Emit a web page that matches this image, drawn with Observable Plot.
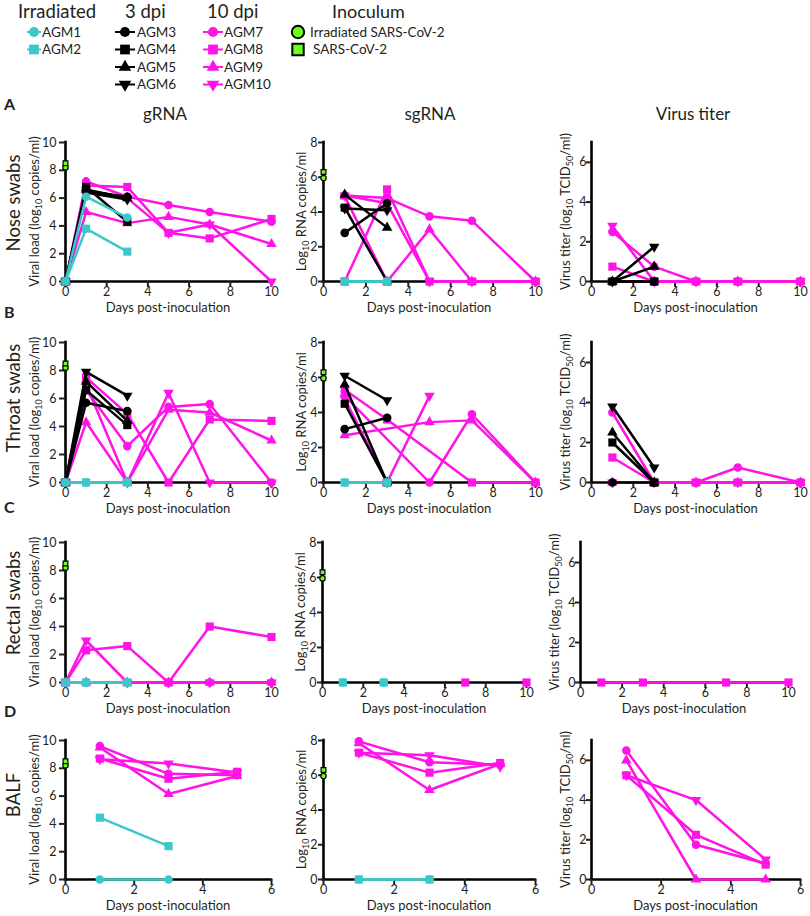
<!DOCTYPE html>
<html>
<head>
<meta charset="utf-8">
<script src="https://cdn.jsdelivr.net/npm/d3@7"></script>
<script src="https://cdn.jsdelivr.net/npm/@observablehq/plot@0.6"></script>
<style>
html,body{margin:0;padding:0;background:#fff;}
#fig{position:relative;width:810px;height:916px;overflow:hidden;font-family:Lato,"Open Sans",sans-serif;color:#231f20;}
#fig > svg{position:absolute;}
</style>
</head>
<body>
<div id="fig"></div>
<script>
const _ = null;

// ---------- categories ----------
const animals = ["AGM1","AGM2","AGM3","AGM4","AGM5","AGM6","AGM7","AGM8","AGM9","AGM10"];
const animalGroup = ["Irradiated","Irradiated","3 dpi","3 dpi","3 dpi","3 dpi","10 dpi","10 dpi","10 dpi","10 dpi"];
const animalSymbol = ["circle","square","circle","square","triangle","triangleDown","circle","square","triangle","triangleDown"];
const groupNames = ["Irradiated","3 dpi","10 dpi"];
const groupColors = ["#3cc8c8","#000000","#ff14e6"];
const inoculumNames = ["Irradiated SARS-CoV-2","SARS-CoV-2"];
const inoculumSymbol = ["circle","square"];
const inoculumColor = "#6cff1a";

const colTitles = ["gRNA","sgRNA","Virus titer"];
const rowTitles = ["Nose swabs","Throat swabs","Rectal swabs","BALF"];
const rowLetters = ["A","B","C","D"];
const xLabel = "Days post-inoculation";
const yMax = [10, 8, 7];
const yTicks = [[0,2,4,6,8,10],[0,2,4,6,8],[0,2,4,6]];
const swabTicks = [0,2,4,6,8,10];
const balfTicks = [0,2,4,6];

// ---------- days ----------
const swabDays = [0, 1, 3, 5, 7, 10];
const balfDays = [1, 3, 5];
const none6 = [_,_,_,_,_,_];
const none3 = [_,_,_];

// ---------- inoculum (log10) ----------
const inoculumGRNA = [8.2, 8.5];
const inoculumSgRNA = [5.95, 6.3];

// ---------- Nose swabs (rows AGM1..AGM10, columns = swabDays) ----------
const noseGRNA = [
  [0, 6.1, 4.6, _, _, _],
  [0, 3.8, 2.15, _, _, _],
  [0, 6.5, 6.1, _, _, _],
  [0, 6.8, 4.3, _, _, _],
  [0, 6.6, 6.0, _, _, _],
  [0, 6.4, 5.9, _, _, _],
  [0, 7.2, 6.1, 5.5, 5.0, 4.3],
  [0, 6.9, 6.8, 3.5, 3.1, 4.5],
  [0, 5.0, 4.2, 4.65, 4.1, 2.7],
  [0, 6.6, 6.0, 3.5, 4.1, 0]
];
const noseSgRNA = [
  [_, 0, 0, _, _, _],
  [_, 0, 0, _, _, _],
  [_, 2.8, 4.5, _, _, _],
  [_, 4.25, 0, _, _, _],
  [_, 5.0, 3.1, _, _, _],
  [_, 4.2, 4.1, _, _, _],
  [_, 4.95, 4.8, 3.75, 3.5, 0],
  [_, 0, 5.3, 0, 0, 0],
  [_, 4.9, 0, 3.0, 0, 0],
  [_, 4.95, 4.5, 0, 0, 0]
];
const noseTiter = [
  none6,
  none6,
  [_, 0, 0, _, _, _],
  [_, 0, 0, _, _, _],
  [_, 0, 0.75, _, _, _],
  [_, 0, 1.75, _, _, _],
  [_, 2.5, 0.75, 0, 0, 0],
  [_, 0.75, 0, 0, 0, 0],
  [_, 0, 0, 0, 0, 0],
  [_, 2.8, 0, 0, 0, 0]
];

// ---------- Throat swabs ----------
const throatGRNA = [
  [0, 0, 0, _, _, _],
  [0, 0, 0, _, _, _],
  [0, 5.7, 5.1, _, _, _],
  [0, 6.6, 4.1, _, _, _],
  [0, 7.2, 4.4, _, _, _],
  [0, 7.9, 6.2, _, _, _],
  [0, 6.6, 2.6, 5.4, 5.6, 0],
  [0, 7.5, 4.9, 0, 4.5, 4.4],
  [0, 4.3, 0, 5.2, 5.0, 3.0],
  [0, 7.0, 0, 6.4, 0, 0]
];
const throatSgRNA = [
  [_, 0, 0, _, _, _],
  [_, 0, 0, _, _, _],
  [_, 3.05, 3.7, _, _, _],
  [_, 4.5, 0, _, _, _],
  [_, 5.6, 0, _, _, _],
  [_, 6.1, 4.7, _, _, _],
  [_, 4.95, _, 0, 3.9, 0],
  [_, 5.3, 3.6, _, 0, 0],
  [_, 2.7, _, 3.45, 3.55, 0],
  [_, 4.8, 0, 4.95, _, _]
];
const throatTiter = [
  none6,
  none6,
  [_, 0, 0, _, _, _],
  [_, 2.0, 0, _, _, _],
  [_, 2.5, 0, _, _, _],
  [_, 3.8, 0.75, _, _, _],
  [_, 3.5, 0, 0, 0.75, 0],
  [_, 1.25, 0, 0, 0, 0],
  [_, 0, 0, 0, 0, 0],
  [_, 0, 0, 0, 0, 0]
];

// ---------- Rectal swabs ----------
const rectalGRNA = [
  [0, 0, 0, _, _, _],
  [0, 0, 0, _, _, _],
  none6, none6, none6, none6,
  [0, 0, 0, 0, 0, 0],
  [0, 2.3, 2.6, 0, 4.0, 3.25],
  [0, 0, 0, 0, 0, 0],
  [0, 3.0, 0, 0, 0, 0]
];
const rectalSgRNA = [
  [_, 0, 0, _, _, _],
  [_, 0, 0, _, _, _],
  none6, none6, none6, none6,
  none6,
  [_, _, _, _, 0, 0],
  none6, none6
];
const rectalTiter = [
  none6, none6, none6, none6, none6, none6,
  none6,
  [_, 0, 0, _, 0, 0],
  none6, none6
];

// ---------- BALF (columns = balfDays) ----------
const balfGRNA = [
  [0, 0, _],
  [4.45, 2.4, _],
  none3, none3, none3, none3,
  [9.6, 7.6, 7.5],
  [8.7, 7.25, 7.75],
  [9.5, 6.15, 7.45],
  [8.65, 8.35, 7.7]
];
const balfSgRNA = [
  [0, 0, _],
  [0, 0, _],
  none3, none3, none3, none3,
  [7.95, 6.75, 6.6],
  [7.3, 6.15, 6.7],
  [7.85, 5.15, 6.65],
  [7.3, 7.15, 6.5]
];
const balfTiter = [
  none3, none3, none3, none3, none3, none3,
  [6.5, 1.75, 0.8],
  [5.25, 2.25, 0.75],
  [6.0, 0, 0],
  [5.25, 4.0, 1.0]
];

// ---------- layout (pixels) ----------
const ROW_PX = [[142, 281], [342, 482], [542, 682], [740, 879]];
const COL_PX = [[65, 271], [323, 535], [591, 800]];
const COL_PX_OVERRIDE = {"2-1": [322, 526], "2-2": [580, 788]};
const YLABEL_OFFSET = [26, 17, 21];
const YTICK_STYLE = [{tickSize: 6, tickPadding: 3}, {tickSize: 5, tickPadding: 1}, {tickSize: 5, tickPadding: 0}];
const ROW_TITLE_Y = [203, 398, 603, 795];
const ROW_LETTER_Y = [110, 318, 513, 717];
const COL_TITLE_X = [165, 430, 693];

const panels = [
  {row:0, col:0, values: noseGRNA, days: swabDays, inoculum: inoculumGRNA, lines: true},
  {row:0, col:1, values: noseSgRNA, days: swabDays, inoculum: inoculumSgRNA, lines: true},
  {row:0, col:2, values: noseTiter, days: swabDays, inoculum: null, lines: true},
  {row:1, col:0, values: throatGRNA, days: swabDays, inoculum: inoculumGRNA, lines: true},
  {row:1, col:1, values: throatSgRNA, days: swabDays, inoculum: inoculumSgRNA, lines: true},
  {row:1, col:2, values: throatTiter, days: swabDays, inoculum: null, lines: true},
  {row:2, col:0, values: rectalGRNA, days: swabDays, inoculum: inoculumGRNA, lines: true},
  {row:2, col:1, values: rectalSgRNA, days: swabDays, inoculum: inoculumSgRNA, lines: false},
  {row:2, col:2, values: rectalTiter, days: swabDays, inoculum: null, lines: true},
  {row:3, col:0, values: balfGRNA, days: balfDays, inoculum: inoculumGRNA, lines: true},
  {row:3, col:1, values: balfSgRNA, days: balfDays, inoculum: inoculumSgRNA, lines: true},
  {row:3, col:2, values: balfTiter, days: balfDays, inoculum: null, lines: true}
];

// ---------- symbols ----------
const SQRT3 = Math.sqrt(3);
const triangleDown = {
  draw(context, size) {
    const y = -Math.sqrt(size / (SQRT3 * 3));
    context.moveTo(0, -y * 2);
    context.lineTo(-SQRT3 * y, y);
    context.lineTo(SQRT3 * y, y);
    context.closePath();
  }
};
const symbolObj = {circle: "circle", square: "square", triangle: "triangle", triangleDown: triangleDown};
const symbolR = {circle: 4.3, square: 4.6, triangle: 3.9, triangleDown: 3.9};
const d3Sym = {circle: d3.symbolCircle, square: d3.symbolSquare, triangle: d3.symbolTriangle, triangleDown: triangleDown};

function panelRows(values, days) {
  const out = [];
  values.forEach((vals, i) => vals.forEach((v, j) => {
    if (v != null) out.push({animal: animals[i], group: animalGroup[i], symbol: animalSymbol[i], day: days[j], value: v});
  }));
  return out;
}

const fig = document.getElementById("fig");

// ---------- overlay: texts + legend ----------
const overlay = d3.select(fig).append("svg")
  .attr("width", 810).attr("height", 916)
  .style("left", "0px").style("top", "0px")
  .style("font-family", "Lato, 'Open Sans', sans-serif")
  .attr("fill", "#231f20");

// Legend
const legendCols = [
  {title: "Irradiated", titleX: 18, members: [0, 1], markX: 34, lineHalf: 7, textX: 42},
  {title: "3 dpi", titleX: 125, members: [2, 3, 4, 5], markX: 125, lineHalf: 10, textX: 137},
  {title: "10 dpi", titleX: 207, members: [6, 7, 8, 9], markX: 213, lineHalf: 10, textX: 224}
];
const legendItemY = [36.5, 54, 71.5, 89];
legendCols.forEach((lc, gi) => {
  overlay.append("text").attr("x", lc.titleX).attr("y", 18).attr("font-size", 18.5).text(lc.title);
  lc.members.forEach((m, k) => {
    const y = legendItemY[k] - 4.5;
    const color = groupColors[groupNames.indexOf(animalGroup[m])];
    overlay.append("line").attr("x1", lc.markX - lc.lineHalf).attr("x2", lc.markX + lc.lineHalf)
      .attr("y1", y).attr("y2", y).attr("stroke", color).attr("stroke-width", 2);
    const s = animalSymbol[m];
    const sz = s === "circle" ? 80 : s === "square" ? 95 : 70;
    overlay.append("path").attr("d", d3.symbol(d3Sym[s], sz)())
      .attr("transform", `translate(${lc.markX},${y})`).attr("fill", color);
    overlay.append("text").attr("x", lc.textX).attr("y", legendItemY[k]).attr("font-size", 13.5).text(animals[m]);
  });
});
overlay.append("text").attr("x", 332).attr("y", 18).attr("font-size", 18).text("Inoculum");
inoculumNames.forEach((nm, k) => {
  const y = legendItemY[k] - 4.5;
  overlay.append("path").attr("d", d3.symbol(inoculumSymbol[k] === "circle" ? d3.symbolCircle : d3.symbolSquare, k === 0 ? 120 : 130)())
    .attr("transform", `translate(298,${y})`).attr("fill", inoculumColor).attr("stroke", "#000").attr("stroke-width", 2);
  overlay.append("text").attr("x", k === 0 ? 310 : 313).attr("y", legendItemY[k]).attr("font-size", 13.5).text(nm);
});

// Row letters, row titles, column titles
rowLetters.forEach((L, r) => overlay.append("text").attr("x", 4).attr("y", ROW_LETTER_Y[r])
  .attr("font-size", 16).attr("font-weight", 700).text(L));
rowTitles.forEach((t, r) => overlay.append("text")
  .attr("transform", `translate(20,${ROW_TITLE_Y[r]}) rotate(-90)`)
  .attr("text-anchor", "middle").attr("font-size", 18.5).text(t));
colTitles.forEach((t, c) => overlay.append("text").attr("x", COL_TITLE_X[c]).attr("y", 120)
  .attr("text-anchor", "middle").attr("font-size", 17).text(t));

function yLabel(g, col) {
  const sub = (txt) => g.append("tspan").attr("font-size", 9).attr("dy", 3).text(txt);
  const norm = (txt) => g.append("tspan").attr("font-size", 13).attr("dy", -3).text(txt);
  if (col === 0) {
    g.append("tspan").text("Viral load (log"); sub("10"); norm(" copies/ml)");
  } else if (col === 1) {
    g.append("tspan").text("Log"); sub("10"); norm(" RNA copies/ml");
  } else {
    g.append("tspan").text("Virus titer (log"); sub("10"); norm(" TCID"); sub("50"); norm("/ml)");
  }
}

// ---------- panels ----------
const ML = 36, MR = 14, MT = 8, MB = 26;
const layerOrder = ["10 dpi", "3 dpi", "Irradiated"];
const symbolKinds = ["circle", "square", "triangle", "triangleDown"];
const intFormat = d => String(d);

panels.forEach(p => {
  const [x0, x1] = COL_PX_OVERRIDE[`${p.row}-${p.col}`] || COL_PX[p.col];
  const [yT, yB] = ROW_PX[p.row];
  const xmax = p.row === 3 ? 6 : 10;
  const xticks = p.row === 3 ? balfTicks : swabTicks;
  const ymax = yMax[p.col];
  const rows = panelRows(p.values, p.days);

  const marks = [
    Plot.ruleY([0], {stroke: "#000", strokeWidth: 2.6, strokeLinecap: "square"}),
    Plot.ruleX([0], {y1: 0, y2: ymax, stroke: "#000", strokeWidth: 2.6, strokeLinecap: "square"}),
    Plot.axisX({ticks: xticks, tickFormat: intFormat, tickSize: 6, tickPadding: 0, strokeWidth: 2, label: null, fill: "#231f20", fontSize: 12.5}),
    Plot.axisY({ticks: yTicks[p.col], tickFormat: intFormat, ...YTICK_STYLE[p.col], strokeWidth: 2, label: null, fill: "#231f20", fontSize: 12.5})
  ];
  layerOrder.forEach(g => {
    const gd = rows.filter(d => d.group === g);
    if (!gd.length) return;
    const color = groupColors[groupNames.indexOf(g)];
    if (p.lines) marks.push(Plot.line(gd, {x: "day", y: "value", z: "animal", stroke: color, strokeWidth: 2.5, strokeLinejoin: "round"}));
    symbolKinds.forEach(s => {
      const sd = gd.filter(d => d.symbol === s);
      if (sd.length) marks.push(Plot.dot(sd, {x: "day", y: "value", symbol: symbolObj[s], r: symbolR[s], fill: color, stroke: "none"}));
    });
  });
  if (p.inoculum) {
    p.inoculum.forEach((v, k) => {
      marks.push(Plot.dot([v], {x: () => 0, y: d => d, symbol: inoculumSymbol[k], r: 2.7, fill: inoculumColor, stroke: "#000", strokeWidth: 1.2}));
    });
  }

  const svg = Plot.plot({
    width: ML + (x1 - x0) + MR,
    height: MT + (yB - yT) + MB,
    marginLeft: ML, marginRight: MR, marginTop: MT, marginBottom: MB,
    style: {background: "transparent", overflow: "visible", fontFamily: "Lato, 'Open Sans', sans-serif", fontSize: "12.5px", color: "#231f20"},
    x: {domain: [0, xmax]},
    y: {domain: [0, ymax]},
    marks
  });
  svg.style.left = (x0 - ML) + "px";
  svg.style.top = (yT - MT) + "px";
  fig.appendChild(svg);

  // axis titles
  const yl = overlay.append("text")
    .attr("transform", `translate(${x0 - YLABEL_OFFSET[p.col]},${(yT + yB) / 2}) rotate(-90)`)
    .attr("text-anchor", "middle").attr("font-size", 13);
  yLabel(yl, p.col);
  overlay.append("text").attr("x", (x0 + x1) / 2).attr("y", yB + 30.5)
    .attr("text-anchor", "middle").attr("font-size", 13).text(xLabel);
});
</script>
</body>
</html>
